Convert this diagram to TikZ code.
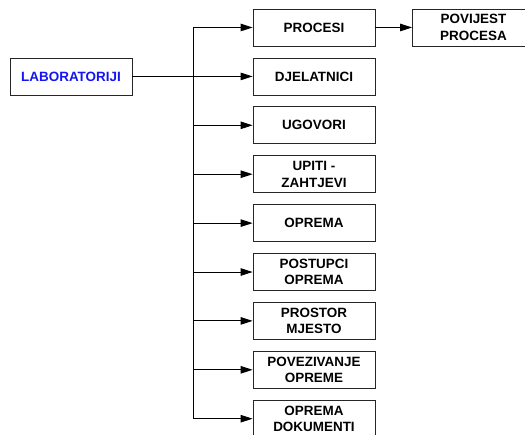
\documentclass[tikz,border=0pt]{standalone}
\usepackage{fontspec}
\setmainfont{Liberation Sans}
\usepackage{xcolor}
\usepackage{tikz}
\usetikzlibrary{arrows.meta}
\definecolor{lbblue}{RGB}{20,20,245}
\tikzset{
  lbbox/.style={draw=black!85, line width=0.8pt, fill=white, minimum width=4.304cm, minimum height=1.305cm, inner sep=0pt, align=center, font=\fontsize{13.5}{16.6}\selectfont\bfseries},
  lbmain/.style={line width=1.8pt, draw=black, line cap=butt},
  lbtrunk/.style={line width=1.2pt, draw=black, line cap=butt},
  lbarrow/.style={line width=0.9pt, draw=black, -{Triangle[length=12bp,width=7.5bp]}},
}

\begin{document}
\begin{tikzpicture}
\useasboundingbox (0,0) rectangle (18.521,15.311);
\clip (0,0) rectangle (18.521,15.311);
\node[lbbox, text=lbblue] (lab) at (2.505,12.615) {LABORATORIJI};
\node[lbbox] (procesi) at (11.077,14.341) {PROCESI};
\node[lbbox] (povijest) at (16.704,14.341) {POVIJEST\\PROCESA};
\node[lbbox] (djelatnici) at (11.077,12.615) {DJELATNICI};
\node[lbbox] (ugovori) at (11.077,10.890) {UGOVORI};
\node[lbbox] (upiti) at (11.077,9.165) {UPITI -\\ZAHTJEVI};
\node[lbbox] (oprema) at (11.077,7.440) {OPREMA};
\node[lbbox] (postupci) at (11.077,5.715) {POSTUPCI\\OPREMA};
\node[lbbox] (prostor) at (11.077,3.990) {PROSTOR\\MJESTO};
\node[lbbox] (povezivanje) at (11.077,2.265) {POVEZIVANJE\\OPREME};
\node[lbbox] (dokumenti) at (11.077,0.540) {OPREMA\\DOKUMENTI};
\coordinate (split) at (6.819,12.615);
\draw[lbtrunk] (split |- procesi.west) -- (split |- dokumenti.west);
\draw[lbmain] (lab.east) -- (split);
\draw[lbarrow] (split |- procesi.west) -- (procesi.west);
\draw[lbarrow] (split |- djelatnici.west) -- (djelatnici.west);
\draw[lbarrow] (split |- ugovori.west) -- (ugovori.west);
\draw[lbarrow] (split |- upiti.west) -- (upiti.west);
\draw[lbarrow] (split |- oprema.west) -- (oprema.west);
\draw[lbarrow] (split |- postupci.west) -- (postupci.west);
\draw[lbarrow] (split |- prostor.west) -- (prostor.west);
\draw[lbarrow] (split |- povezivanje.west) -- (povezivanje.west);
\draw[lbarrow] (split |- dokumenti.west) -- (dokumenti.west);
\draw[lbarrow] (procesi.east) -- (povijest.west);
\end{tikzpicture}
\end{document}
